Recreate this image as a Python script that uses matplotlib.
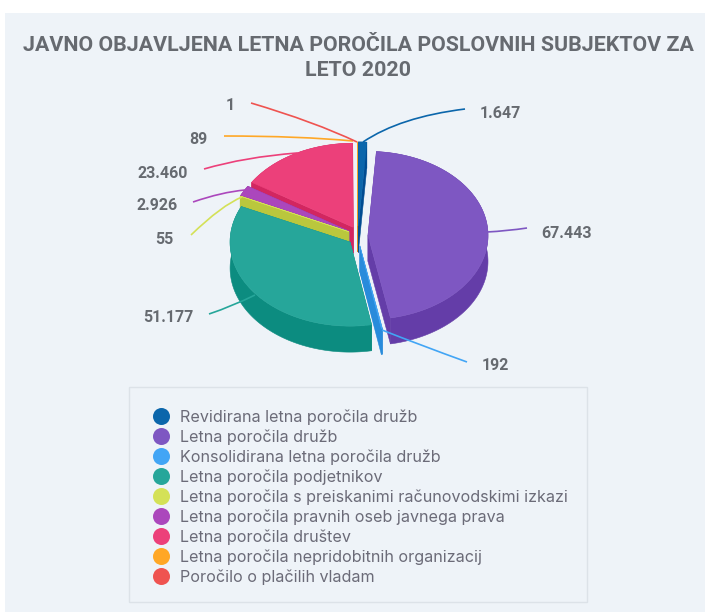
import numpy as np
import matplotlib
matplotlib.use('Agg')
import matplotlib.pyplot as plt
from matplotlib.path import Path
from matplotlib.patches import PathPatch, Rectangle
from matplotlib.colors import to_rgb

title = 'JAVNO OBJAVLJENA LETNA POROČILA POSLOVNIH SUBJEKTOV ZA\nLETO 2020'
names = ['Revidirana letna poročila družb',
         'Letna poročila družb',
         'Konsolidirana letna poročila družb',
         'Letna poročila podjetnikov',
         'Letna poročila s preiskanimi računovodskimi izkazi',
         'Letna poročila pravnih oseb javnega prava',
         'Letna poročila društev',
         'Letna poročila nepridobitnih organizacij',
         'Poročilo o plačilih vladam']
values = [1647, 67443, 192, 51177, 55, 2926, 23460, 89, 1]
colors = ['#0B66AB', '#7E57C2', '#42A5F5', '#26A69A', '#D4E157',
          '#AB47BC', '#EC407A', '#FFA726', '#EF5350']

# pie geometry in pixels
CX, CY = 358, 236
RX, RY = 120, 84
DEPTH = 26
EXPLODE = 10

# connector: control point, end point; then label anchor
conn_ctrl = [(400, 117), (507, 231), (420, 345), (233, 306), (222, 205),
             (222, 192), (245, 157), (300, 136), (315, 122)]
conn_end = [(465, 109), (527, 228), (467, 362), (209, 314), (191, 235),
            (193, 202), (204, 169), (224, 136), (251, 103)]
label_x = [480, 541, 482, 193, 173, 178, 188, 207, 235]
label_y = [113, 233, 365, 318, 239, 206, 173, 140, 106]
label_ha = ['left', 'left', 'left', 'right', 'right', 'right', 'right', 'right', 'right']
conn_start = [(363, 142), (487, 232), (382, 330), (255, 295), (242, 197),
              (245, 190), (297, 153), (353, 141), (357, 142)]


def darker(c):
    r, g, b = to_rgb(c)
    return (max(r - 26/255, 0), max(g - 26/255, 0), max(b - 26/255, 0))


def arc(cx, cy, a, b):
    t = np.radians(np.linspace(a, b, max(int(abs(b - a)) * 2, 2)))
    return cx + RX*np.sin(t), cy - RY*np.cos(t)


def draw_slice(ax, a, b, col):
    mid = np.radians((a + b) / 2)
    cx = CX + EXPLODE*np.sin(mid)
    cy = CY - EXPLODE*np.cos(mid)
    x, y = arc(cx, cy, a, b)
    side = darker(col)
    # radial walls
    for i in [0, -1]:
        ax.fill([cx, x[i], x[i], cx], [cy, y[i], y[i] + DEPTH, cy + DEPTH],
                color=side, lw=0.4)
    # outer wall
    ax.fill(np.r_[x, x[::-1]], np.r_[y, y[::-1] + DEPTH], color=side, lw=0.4)
    # top
    ax.fill(np.r_[cx, x], np.r_[cy, y], color=col, lw=0.4)


fig = plt.figure(figsize=(7.05, 6.12), dpi=100, facecolor='white')
ax = fig.add_axes([0, 0, 1, 1])
ax.set_xlim(0, 705)
ax.set_ylim(612, 0)
ax.axis('off')

ax.add_patch(Rectangle((5, 13), 700, 599, fc='#EEF3F8', ec='none'))
ax.text(358, 58, title, ha='center', va='center', fontsize=15.4,
        fontweight='bold', family='Roboto', color='#666A70', linespacing=1.45)

edges = np.r_[0, np.cumsum(values)] / np.sum(values) * 360
mids = (edges[:-1] + edges[1:]) / 2
# far slices first
for i in np.argsort(-np.cos(np.radians(mids))):
    draw_slice(ax, edges[i], edges[i + 1], colors[i])

for i, v in enumerate(values):
    verts = [conn_start[i], conn_ctrl[i], conn_end[i]]
    p = Path(verts, [Path.MOVETO, Path.CURVE3, Path.CURVE3])
    ax.add_patch(PathPatch(p, fc='none', ec=colors[i], lw=1.2))
    ax.text(label_x[i], label_y[i], f'{v:,}'.replace(',', '.'), ha=label_ha[i],
            va='center', fontsize=11.5, fontweight='bold', family='Roboto',
            color='#666A70')

# legend
ax.add_patch(Rectangle((129, 387), 458, 215, fc='none', ec='#DCE2E8', lw=1))
for i, n in enumerate(names):
    y = 416 + i*20
    ax.scatter(161, y, s=150, color=colors[i], linewidths=0)
    ax.text(180, y + 1, n, va='center', fontsize=11.6, family='Inter', color='#6B6B78')

fig.savefig('out.png', dpi=100)
